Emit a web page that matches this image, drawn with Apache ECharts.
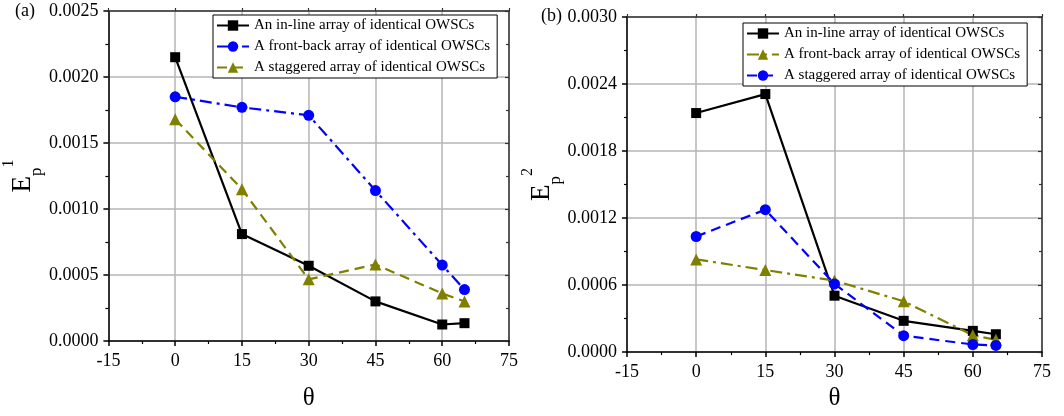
<!DOCTYPE html>
<html>
<head>
<meta charset="utf-8">
<script src="https://cdn.jsdelivr.net/npm/echarts@6/dist/echarts.min.js"></script>
<style>
  html, body { margin: 0; padding: 0; background: #fff; }
  #chart { width: 1064px; height: 416px; }
</style>
</head>
<body>
<div id="chart"></div>
<script>
// Wave-energy absorption of OWSC arrays versus incident angle θ
const theta = [0, 15, 30, 45, 60, 65];
const xTicks = { min: -15, max: 75, interval: 15 };

// Panel (a): E_p^1
const inlineA = [0.00215, 0.00081, 0.00057, 0.00030, 0.000125, 0.000135];
const frontBackA = [0.00185, 0.00177, 0.00171, 0.00114, 0.000575, 0.00039];
const staggeredA = [0.00168, 0.00115, 0.000467, 0.00058, 0.00036, 0.00030];
const yTicksA = { min: 0, max: 0.0025, interval: 0.0005 };

// Panel (b): E_p^2
const inlineB = [0.00214, 0.00231, 0.000505, 0.00028, 0.00019, 0.00016];
const frontBackB = [0.00083, 0.000735, 0.00064, 0.000455, 0.00015, 0.00011];
const staggeredB = [0.001035, 0.001275, 0.00061, 0.000147, 0.000068, 0.00006];
const yTicksB = { min: 0, max: 0.0030, interval: 0.0006 };

const legendText = {
  inlineA: 'An in-line array of identical OWSCs',
  frontBackA: 'A front-back array of identical OWSCs',
  staggeredA: 'A staggered array of identical OWSCs',
  inlineB: 'An in-line array of identical OWSCs',
  frontBackB: 'A front-back array of identical OWSCs',
  staggeredB: 'A staggered array of identical OWSCs'
};

const SERIF = '"Liberation Serif", "Times New Roman", serif';
const BLACK = '#000000';
const BLUE = '#0000ff';
const OLIVE = '#808000';
const GRIDLINE = '#b4b4b4';

function pairs(xs, ys) { return xs.map((x, i) => [x, ys[i]]); }

function bottomX(gridIndex, nameGap) {
  return {
    type: 'value', gridIndex, position: 'bottom',
    min: xTicks.min, max: xTicks.max, interval: xTicks.interval,
    name: 'θ', nameLocation: 'middle', nameGap,
    nameTextStyle: { fontFamily: SERIF, fontSize: 25, color: '#000' },
    axisLine: { show: true, onZero: false, lineStyle: { color: '#000', width: 1.5 } },
    axisTick: { show: true, inside: false, length: 5, lineStyle: { color: '#000', width: 1.5 } },
    minorTick: { show: true, splitNumber: 2, length: 3, lineStyle: { color: '#000', width: 1.2 } },
    axisLabel: { fontFamily: SERIF, fontSize: 18, color: '#000', margin: 11 },
    splitLine: { show: true, lineStyle: { color: GRIDLINE, width: 1.5 } }
  };
}
function topX(gridIndex) {
  return {
    type: 'value', gridIndex, position: 'top',
    min: xTicks.min, max: xTicks.max, interval: xTicks.interval,
    axisLine: { show: true, onZero: false, lineStyle: { color: '#333', width: 1.5 } },
    axisTick: { show: true, inside: false, length: 3, lineStyle: { color: '#333', width: 1.2 } },
    axisLabel: { show: false },
    splitLine: { show: false }
  };
}
function leftY(gridIndex, ticks, sup) {
  return {
    type: 'value', gridIndex, position: 'left',
    min: ticks.min, max: ticks.max, interval: ticks.interval,
    name: '{e|E}{p|p}{s|' + sup + '}',
    nameLocation: 'middle', nameRotate: 90, nameGap: 58,
    nameTextStyle: {
      fontFamily: SERIF, color: '#000', lineHeight: 44,
      rich: {
        e: { fontFamily: SERIF, fontSize: 27, color: '#000', lineHeight: 44, verticalAlign: 'middle' },
        p: { fontFamily: SERIF, fontSize: 17, color: '#000', lineHeight: 16, verticalAlign: 'bottom' },
        s: { fontFamily: SERIF, fontSize: 16, color: '#000', lineHeight: 18, verticalAlign: 'top' }
      }
    },
    axisLine: { show: true, onZero: false, lineStyle: { color: '#000', width: 1.5 } },
    axisTick: { show: true, inside: false, length: 5, lineStyle: { color: '#000', width: 1.5 } },
    minorTick: { show: true, splitNumber: 2, length: 3, lineStyle: { color: '#000', width: 1.2 } },
    axisLabel: { fontFamily: SERIF, fontSize: 18, color: '#000', margin: 10,
                 formatter: v => v.toFixed(4) },
    splitLine: { show: true, lineStyle: { color: GRIDLINE, width: 1.5 } }
  };
}
function rightY(gridIndex, ticks) {
  return {
    type: 'value', gridIndex, position: 'right',
    min: ticks.min, max: ticks.max, interval: ticks.interval,
    axisLine: { show: true, onZero: false, lineStyle: { color: '#333', width: 1.5 } },
    axisTick: { show: true, inside: true, length: 4, lineStyle: { color: '#333', width: 1.2 } },
    minorTick: { show: true, splitNumber: 2, length: 3, lineStyle: { color: '#333', width: 1.2 } },
    axisLabel: { show: false },
    splitLine: { show: false }
  };
}

function lineSeries(name, axisIdx, data, color, symbol, symbolSize, dash) {
  return {
    name, type: 'line', xAxisIndex: axisIdx, yAxisIndex: axisIdx,
    data: pairs(theta, data),
    symbol, symbolSize,
    itemStyle: { color },
    lineStyle: { color, width: 2.2, type: dash },
    animation: false, z: 3
  };
}

const DASH = [10, 6];
const DASH_DOT = [12, 5, 3, 5];

function legendFor(gridNames, left, top) {
  return {
    data: gridNames, left, top, orient: 'vertical',
    itemWidth: 32, itemHeight: 13, itemGap: 6,
    padding: [3, 7, 3, 3],
    backgroundColor: '#fff',
    borderColor: '#000', borderWidth: 1, borderRadius: 0,
    textStyle: { fontFamily: SERIF, fontSize: 15, color: '#000' },
    formatter: n => legendText[n],
    selectedMode: false
  };
}

const chart = echarts.init(document.getElementById('chart'), null, { renderer: 'canvas' });
chart.setOption({
  animation: false,
  backgroundColor: '#fff',
  textStyle: { fontFamily: SERIF },
  title: [
    { text: '(a)', left: 13, top: 0, padding: 2, textStyle: { fontFamily: SERIF, fontSize: 18, fontWeight: 'normal', color: '#000' } },
    { text: '(b)', left: 539, top: 5, padding: 2, textStyle: { fontFamily: SERIF, fontSize: 18, fontWeight: 'normal', color: '#000' } }
  ],
  grid: [
    { left: 99, top: 11, width: 410, height: 333, containLabel: false },
    { left: 627, top: 17, width: 415, height: 341, containLabel: false }
  ],
  legend: [
    legendFor(['inlineA', 'frontBackA', 'staggeredA'], 213, 15),
    legendFor(['inlineB', 'frontBackB', 'staggeredB'], 743, 23)
  ],
  xAxis: [bottomX(0, 45), bottomX(1, 30), topX(0), topX(1)],
  yAxis: [leftY(0, yTicksA, '1'), leftY(1, yTicksB, '2'), rightY(0, yTicksA), rightY(1, yTicksB)],
  series: [
    lineSeries('inlineA', 0, inlineA, BLACK, 'rect', 10, 'solid'),
    lineSeries('frontBackA', 0, frontBackA, BLUE, 'circle', 11, DASH_DOT),
    lineSeries('staggeredA', 0, staggeredA, OLIVE, 'triangle', 12, DASH),
    lineSeries('inlineB', 1, inlineB, BLACK, 'rect', 10, 'solid'),
    lineSeries('frontBackB', 1, frontBackB, OLIVE, 'triangle', 12, DASH_DOT),
    lineSeries('staggeredB', 1, staggeredB, BLUE, 'circle', 11, DASH)
  ]
});
</script>
</body>
</html>
